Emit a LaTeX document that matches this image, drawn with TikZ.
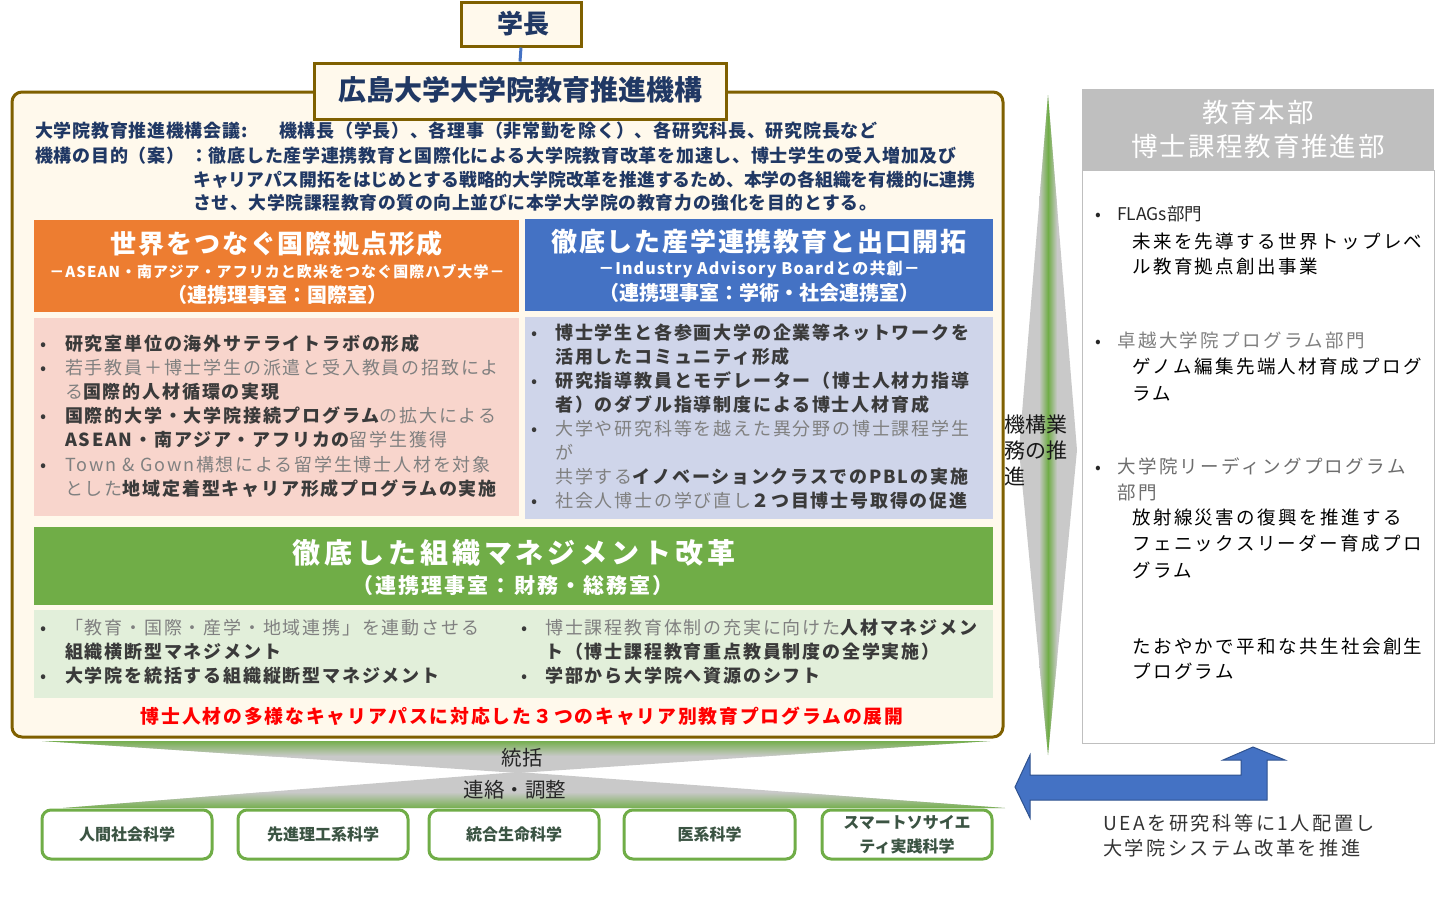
\documentclass[tikz,border=0pt]{standalone}
\usepackage{fontspec}
\setmainfont{Noto Sans CJK JP}
\newfontfamily\lsA[LetterSpace=7]{Noto Sans CJK JP}
\newfontfamily\lsB[LetterSpace=10]{Noto Sans CJK JP}
\newfontfamily\lsD[LetterSpace=14]{Noto Sans CJK JP}
\newfontfamily\lsG[LetterSpace=13]{Noto Sans CJK JP}
\newfontfamily\lsH[LetterSpace=4]{Noto Sans CJK JP}
\newcommand\fsz[1]{\fontsize{#1}{#1}\selectfont}
\newcommand\fszb[2]{\fontsize{#1}{#2}\selectfont}
\newcommand\stk[1]{\begin{tabular}[t]{@{}l@{}}#1\end{tabular}}
\definecolor{brownB}{HTML}{7F6000}
\definecolor{creamC}{HTML}{FFF9EC}
\definecolor{navyT}{HTML}{203864}
\definecolor{orangeC}{HTML}{ED7D31}
\definecolor{blueC}{HTML}{4472C4}
\definecolor{blueD}{HTML}{2F528F}
\definecolor{greenC}{HTML}{70AD47}
\definecolor{pinkC}{HTML}{F8D5CC}
\definecolor{lavC}{HTML}{CFD5EA}
\definecolor{lgreenC}{HTML}{E2EFDA}
\definecolor{grayH}{HTML}{BFBFBF}
\definecolor{dkT}{HTML}{3A3A3A}
\definecolor{ltT}{HTML}{808080}
\definecolor{redT}{HTML}{FF0000}
\definecolor{deptT}{HTML}{3B5443}
\definecolor{funG}{HTML}{C9C9C9}
\newcommand\dk[1]{{\bfseries\color{dkT}#1}}
\newcommand\lt[1]{{\color{ltT}#1}}
\newcommand\bt{{\color{dkT}•}}
\newcommand\bi{\makebox[25pt][l]{\bt}}
\newcommand\bj{\makebox[24pt][l]{\bt}}
\newcommand\bs{\hspace*{25pt}}
\newcommand\bsj{\hspace*{24pt}}
\begin{document}
\begin{tikzpicture}[x=1pt,y=-1pt,
  hdrbox/.style={draw=brownB, line width=3pt, fill=creamC, text=navyT, inner sep=0pt},
  colbox/.style={inner sep=0pt, draw=none},
  wtxt/.style={text=white, inner sep=0pt, anchor=base},
  deptbox/.style={draw=greenC, line width=3pt, fill=white, rounded corners=9pt, minimum width=170pt, minimum height=49pt, inner sep=0pt},
  depttxt/.style={text=deptT, inner sep=0pt, anchor=base, font=\bfseries\fsz{16}},
  lw/.style={inner sep=0pt, anchor=base west}]
\useasboundingbox (0,0) rectangle (1440,898);

% main rounded frame
\draw[brownB, line width=3pt, fill=creamC, rounded corners=10pt] (12,92) rectangle (1003,737);

% top boxes
\node[hdrbox, minimum width=120pt, minimum height=44pt] (gaku) at (521,24) {};
\node[text=navyT, inner sep=0pt, anchor=base, font=\bfseries\fsz{26}] (gakut) at (523,33.9) {学長};
\node[hdrbox, minimum width=412pt, minimum height=56pt] (kiko) at (520,91) {};
\node[text=navyT, inner sep=0pt, anchor=base, font=\bfseries\fsz{28}] (kikot) at (520,100.6) {広島大学大学院教育推進機構};
\draw[blueC, line width=3pt] (gaku.south) -- (kiko.north);

% header lines
\begin{scope}[every node/.style={lw, text=navyT, font=\lsH\bfseries\fsz{18}}]
\node (h1a) at (35,137.8) {大学院教育推進機構会議:};
\node (h1b) at (279,137.8) {機構長（学長）、各理事（非常勤を除く）、各研究科長、研究院長など};
\node (h2a) at (35,162.8) {機構の目的（案）};
\node (h2b) at (190,162.8) {：徹底した産学連携教育と国際化による大学院教育改革を加速し、博士学生の受入増加及び};
\node[font=\bfseries\fsz{17.8}] (h3) at (193,186.8) {キャリアパス開拓をはじめとする戦略的大学院改革を推進するため、本学の各組織を有機的に連携};
\node[font=\lsH\bfseries\fsz{17.8}] (h4) at (193,209.8) {させ、大学院課程教育の質の向上並びに本学大学院の教育力の強化を目的とする。};
\end{scope}

% orange section
\node[colbox, fill=orangeC, minimum width=485pt, minimum height=92pt] (orbox) at (276.5,266) {};
\node[wtxt, font=\lsA\bfseries\fsz{26}] (ort1) at (277,253.3) {世界をつなぐ国際拠点形成};
\node[wtxt, font=\lsA\bfseries\fsz{15}] (ort2) at (277,277.3) {－ASEAN・南アジア・アフリカと欧米をつなぐ国際ハブ大学－};
\node[wtxt, font=\bfseries\fsz{20}] (ort3) at (277,302.6) {（連携理事室：国際室）};
\node[colbox, fill=pinkC, minimum width=485pt, minimum height=198pt] (pkbox) at (276.5,417) {};
\node[lw, font=\lsB\fszb{18}{24.2}] (pktxt) at (40,350) {\stk{
\bi\dk{研究室単位の海外サテライトラボの形成}\\
\bi\lt{若手教員＋博士学生の派遣と受入教員の招致によ}\\
\bs\lt{る}\dk{国際的人材循環の実現}\\
\bi\dk{国際的大学・大学院接続プログラム}\lt{の拡大による}\\
\bs\dk{ASEAN・南アジア・アフリカの}\lt{留学生獲得}\\
\bi\lt{Town \& Gown構想による留学生博士人材を対象}\\
\bs\lt{とした}\dk{地域定着型キャリア形成プログラムの実施}}};

% blue section
\node[colbox, fill=blueC, minimum width=468pt, minimum height=92pt] (blbox) at (759,265) {};
\node[wtxt, font=\lsA\bfseries\fsz{26}] (blt1) at (759,251.5) {徹底した産学連携教育と出口開拓};
\node[wtxt, font=\lsA\bfseries\fsz{16}] (blt2) at (759,274.7) {－Industry Advisory Boardとの共創－};
\node[wtxt, font=\bfseries\fsz{20}] (blt3) at (759,300.6) {（連携理事室：学術・社会連携室）};
\node[colbox, fill=lavC, minimum width=468pt, minimum height=202pt] (lvbox) at (759,418) {};
\node[lw, font=\lsB\fszb{18}{24}] (lvtxt) at (531,339) {\stk{
\bj\dk{博士学生と各参画大学の企業等ネットワークを}\\
\bsj\dk{活用したコミュニティ形成}\\
\bj\dk{研究指導教員とモデレーター（博士人材力指導}\\
\bsj\dk{者）のダブル指導制度による博士人材育成}\\
\bj\lt{大学や研究科等を越えた異分野の博士課程学生}\\
\bsj\lt{が}\\
\bsj\lt{共学する}\dk{イノベーションクラスでのPBLの実施}\\
\bj\lt{社会人博士の学び直し}\dk{２つ目博士号取得の促進}}};

% green section
\node[colbox, fill=greenC, minimum width=959pt, minimum height=78pt] (grbox) at (513.5,566) {};
\node[wtxt, font=\lsD\bfseries\fsz{28}] (grt1) at (514,563.8) {徹底した組織マネジメント改革};
\node[wtxt, font=\lsB\bfseries\fsz{21}] (grt2) at (513,593.8) {（連携理事室：財務・総務室）};
\node[colbox, fill=lgreenC, minimum width=959pt, minimum height=88pt] (lgbox) at (513.5,654) {};
\node[lw, font=\lsB\fszb{18}{24}] (lgl) at (40,634) {\stk{
\bi\lt{「教育・国際・産学・地域連携」を連動させる}\\
\bs\dk{組織横断型マネジメント}\\
\bi\dk{大学院を統括する組織縦断型マネジメント}}};
\node[lw, font=\lsB\fszb{18}{24}] (lgr) at (521,634) {\stk{
\bj\lt{博士課程教育体制の充実に向けた}\dk{人材マネジメン}\\
\bsj\dk{ト（博士課程教育重点教員制度の全学実施）}\\
\bj\dk{学部から大学院へ資源のシフト}}};

% red line
\node[inner sep=0pt, anchor=base, text=redT, font=\lsB\bfseries\fsz{18.8}] (redl) at (522,723.1) {博士人材の多様なキャリアパスに対応した３つのキャリア別教育プログラムの展開};

% funnel
\fill[funG] (42,741) -- (990,741) -- (518,773) -- cycle;
\begin{scope}
\clip (42,741) -- (990,741) -- (518,773) -- cycle;
\shade[top color=greenC, bottom color=funG] (40,740) rectangle (995,756);
\end{scope}
\fill[funG] (518,772) -- (1005,808) -- (63,808) -- cycle;
\begin{scope}
\clip (518,772) -- (1005,808) -- (63,808) -- cycle;
\shade[top color=funG, bottom color=greenC] (60,792) rectangle (1008,809);
\end{scope}
\node[inner sep=0pt, anchor=base, text=black!85, font=\fsz{20.5}] (tokatsu) at (522,765.8) {統括};
\node[inner sep=0pt, anchor=base, text=black!85, font=\fsz{20.5}] (renraku) at (515,797.8) {連絡・調整};

% departments
\node[deptbox] (d1) at (127,834.5) {};
\node[deptbox] (d2) at (323,834.5) {};
\node[deptbox] (d3) at (514,834.5) {};
\node[deptbox, minimum width=171pt] (d4) at (709.5,834.5) {};
\node[deptbox] (d5) at (907,834.5) {};
\node[depttxt] (d1t) at (127,840) {人間社会科学};
\node[depttxt] (d2t) at (323,840) {先進理工系科学};
\node[depttxt] (d3t) at (514,840) {統合生命科学};
\node[depttxt] (d4t) at (709.5,840) {医系科学};
\node[depttxt] (d5a) at (907,828) {スマートソサイエ};
\node[depttxt] (d5b) at (907,852) {ティ実践科学};

% spindle
\fill[funG] (1048,95) -- (1077,450) -- (1048,755) -- (1019,450) -- cycle;
\begin{scope}
\clip (1048,95) -- (1077,450) -- (1048,755) -- (1019,450) -- cycle;
\shade[left color=funG, right color=funG, middle color=greenC] (1039,90) rectangle (1057,760);
\end{scope}
\node[lw, text=black!90, font=\fszb{21}{26}] (spt) at (1004,432) {\stk{機構業\\務の推\\進}};

% right panel
\node[colbox, fill=white, draw=grayH, line width=1pt, minimum width=352pt, minimum height=573pt] (rbody) at (1258,456.5) {};
\node[colbox, fill=grayH, minimum width=352pt, minimum height=81pt] (rhead) at (1258,129.5) {};
\node[wtxt, font=\lsA\fsz{26.5}] (rh1) at (1258,122.3) {教育本部};
\node[wtxt, font=\lsA\fsz{26.5}] (rh2) at (1258,156.3) {博士課程教育推進部};
\begin{scope}[every node/.style={lw}]
\node[text=black!85, font=\fsz{17}] (rb1) at (1095,220.5) {•};
\node[text=black!85, font=\fsz{17.5}] (rf1) at (1117,220.5) {FLAGs部門};
\node[text=black, font=\lsG\fszb{18.5}{25}] (rs1) at (1132,248.2) {\stk{未来を先導する世界トップレベ\\ル教育拠点創出事業}};
\node[text=black!85, font=\fsz{17}] (rb2) at (1095,347.2) {•};
\node[text=ltT, font=\lsG\fsz{18.5}] (rf2) at (1117,347.2) {卓越大学院プログラム部門};
\node[text=black, font=\lsG\fszb{18.5}{27}] (rs2) at (1132,373.2) {\stk{ゲノム編集先端人材育成プログ\\ラム}};
\node[text=black!85, font=\fsz{17}] (rb3) at (1095,473.2) {•};
\node[text=ltT!85!black, font=\lsG\fszb{18.5}{26}] (rf3) at (1117,473.2) {\stk{大学院リーディングプログラム\\部門}};
\node[text=black, font=\lsG\fszb{18.5}{26.5}] (rs3) at (1132,524.2) {\stk{放射線災害の復興を推進する\\フェニックスリーダー育成プロ\\グラム}};
\node[text=black, font=\lsG\fszb{18.5}{25}] (rs4) at (1132,653.2) {\stk{たおやかで平和な共生社会創生\\プログラム}};
\node[text=black!80, font=\lsG\fszb{19.2}{25}] (uea) at (1103,830.6) {\stk{UEAを研究科等に1人配置し\\大学院システム改革を推進}};
\end{scope}

% blue L arrow
\draw[blueD, fill=blueC, line width=1pt] (1015,787) -- (1030,755) -- (1030,775) -- (1241,775) -- (1241,760) -- (1223,760) -- (1253,747) -- (1285,760) -- (1267,760) -- (1267,800) -- (1030,800) -- (1030,818) -- cycle;
\end{tikzpicture}
\end{document}
